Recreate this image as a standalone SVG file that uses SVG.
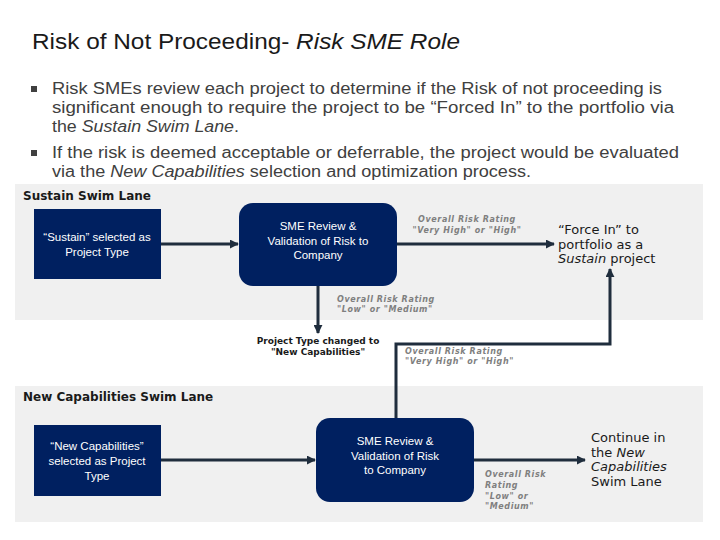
<svg xmlns="http://www.w3.org/2000/svg" width="720" height="540" viewBox="0 0 720 540">
<style>
.title{font-family:"Liberation Sans",Arial,sans-serif;font-size:22.5px;fill:#1a1a1a}
.bul{font-family:"Liberation Sans",Arial,sans-serif;font-size:16px;fill:#404040}
.lane{fill:#f0f0f0}
.lanelbl{font-family:"DejaVu Sans",Verdana,sans-serif;font-size:12px;fill:#1a1a1a;font-weight:600}
.box{fill:#002060}
.btxt{font-family:"Liberation Sans",Arial,sans-serif;font-size:11.5px;fill:#ffffff;text-anchor:middle}
.albl{font-family:"DejaVu Sans",Verdana,sans-serif;font-size:8px;font-style:italic;font-weight:bold;fill:#7f7f7f;letter-spacing:0.6px}
.out{font-family:"DejaVu Sans",Verdana,sans-serif;font-size:13px;fill:#1a1a1a}
.mid{font-family:"DejaVu Sans",Verdana,sans-serif;font-size:9px;font-weight:bold;fill:#1a1a1a;text-anchor:middle}
.conn{stroke:#1f2d3d;stroke-width:3;fill:none;marker-end:url(#ah)}
</style>
<defs>
<marker id="ah" viewBox="0 0 10 10" refX="9" refY="5" markerWidth="3" markerHeight="3" orient="auto" markerUnits="strokeWidth">
<path d="M0,0 L10,5 L0,10 z" fill="#1f2d3d"/>
</marker>
</defs>
<rect width="720" height="540" fill="#ffffff"/>
<text class="title" x="32" y="49" textLength="428" lengthAdjust="spacingAndGlyphs">Risk of Not Proceeding- <tspan font-style="italic">Risk SME Role</tspan></text>
<g id="bullets">
<rect x="31" y="86" width="6" height="6" fill="#404040"/>
<text class="bul" x="52" y="94" textLength="610" lengthAdjust="spacingAndGlyphs">Risk SMEs review  each project to determine if the Risk of not proceeding is</text>
<text class="bul" x="52" y="113" textLength="622" lengthAdjust="spacingAndGlyphs">significant enough to require the project to be “Forced In” to the portfolio via</text>
<text class="bul" x="52" y="132" textLength="187" lengthAdjust="spacingAndGlyphs">the <tspan font-style="italic">Sustain Swim Lane</tspan>.</text>
<rect x="31" y="150" width="6" height="6" fill="#404040"/>
<text class="bul" x="52" y="158" textLength="627" lengthAdjust="spacingAndGlyphs">If the risk is deemed acceptable or deferrable, the project would be evaluated</text>
<text class="bul" x="52" y="177" textLength="479" lengthAdjust="spacingAndGlyphs">via the <tspan font-style="italic">New Capabilities</tspan> selection and optimization process.</text>
</g>
<g id="lane-sustain">
<rect class="lane" x="15" y="184" width="688" height="136"/>
<text class="lanelbl" x="23" y="200">Sustain Swim Lane</text>
</g>
<g id="lane-newcap">
<rect class="lane" x="15" y="386" width="688" height="136"/>
<text class="lanelbl" x="23" y="401">New Capabilities Swim Lane</text>
</g>
<g id="connectors">
<line class="conn" x1="161" y1="244" x2="238" y2="244"/>
<line class="conn" x1="397" y1="244" x2="554" y2="244"/>
<line class="conn" x1="318" y1="286" x2="318" y2="333"/>
<polyline class="conn" points="396,418 396,344 610,344 610,269"/>
<line class="conn" x1="161" y1="460" x2="315" y2="460"/>
<line class="conn" x1="474" y1="460" x2="585" y2="460"/>
</g>
<g id="n1">
<rect class="box" x="34" y="209" width="127" height="70"/>
<text class="btxt" x="97" y="241">“Sustain” selected as</text>
<text class="btxt" x="97" y="256">Project Type</text>
</g>
<g id="n2">
<rect class="box" x="239" y="203" width="158" height="83" rx="14"/>
<text class="btxt" x="318" y="230">SME Review &amp;</text>
<text class="btxt" x="318" y="245">Validation of Risk  to</text>
<text class="btxt" x="318" y="259">Company</text>
</g>
<g id="n3">
<text class="out" x="558" y="234">“Force In” to</text>
<text class="out" x="558" y="249">portfolio as a</text>
<text class="out" x="558" y="263"><tspan font-style="italic">Sustain</tspan> project</text>
</g>
<g id="n4">
<text class="mid" x="318" y="344">Project Type changed to</text>
<text class="mid" x="318" y="355">"New Capabilities"</text>
</g>
<g id="n5">
<rect class="box" x="34" y="425" width="127" height="71"/>
<text class="btxt" x="97" y="450">“New Capabilities”</text>
<text class="btxt" x="97" y="465">selected as Project</text>
<text class="btxt" x="97" y="480">Type</text>
</g>
<g id="n6">
<rect class="box" x="316" y="418" width="158" height="84" rx="14"/>
<text class="btxt" x="395" y="445">SME Review &amp;</text>
<text class="btxt" x="395" y="460">Validation of Risk</text>
<text class="btxt" x="395" y="474">to Company</text>
</g>
<g id="n7">
<text class="out" x="591" y="442">Continue in</text>
<text class="out" x="591" y="457">the <tspan font-style="italic">New</tspan></text>
<text class="out" x="591" y="471" font-style="italic">Capabilities</text>
<text class="out" x="591" y="486">Swim Lane</text>
</g>
<g id="labels">
<text class="albl" x="467" y="222" text-anchor="middle">Overall Risk Rating</text>
<text class="albl" x="467" y="233" text-anchor="middle">"Very High" or  "High"</text>
<text class="albl" x="337" y="302">Overall Risk Rating</text>
<text class="albl" x="337" y="312">"Low" or "Medium"</text>
<text class="albl" x="405" y="354">Overall Risk Rating</text>
<text class="albl" x="405" y="364">"Very High" or  "High"</text>
<text class="albl" x="485" y="477">Overall Risk</text>
<text class="albl" x="485" y="488">Rating</text>
<text class="albl" x="485" y="499">"Low" or</text>
<text class="albl" x="485" y="509">"Medium"</text>
</g>
</svg>
